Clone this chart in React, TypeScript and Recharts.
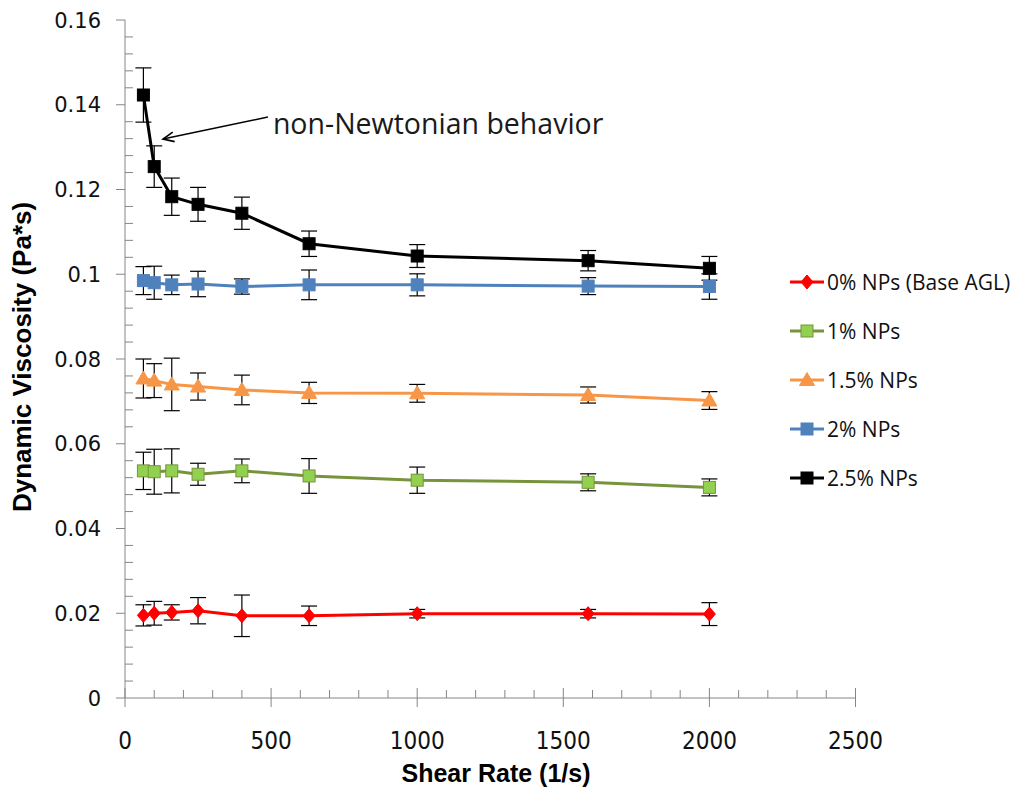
import React from 'react';
import { LineChart, Line, XAxis, YAxis, ErrorBar, ReferenceLine } from 'recharts';

// ---------- data ----------
const shearRates = [63, 100, 160, 250, 400, 630, 1000, 1585, 2000];

const visc0 = [0.0195, 0.02, 0.0202, 0.0206, 0.0194, 0.0194, 0.0199, 0.0199, 0.0198];
const err0 = [0.0025, 0.0028, 0.0018, 0.0031, 0.0049, 0.0023, 0.001, 0.001, 0.0027];
const visc1 = [0.0536, 0.0534, 0.0536, 0.0528, 0.0536, 0.0524, 0.0514, 0.0509, 0.0497];
const err1 = [0.0044, 0.0053, 0.0052, 0.0026, 0.0028, 0.0041, 0.0031, 0.002, 0.002];
const visc15 = [0.0754, 0.0749, 0.074, 0.0735, 0.0727, 0.072, 0.0719, 0.0715, 0.0702];
const err15 = [0.0046, 0.004, 0.0062, 0.0032, 0.0035, 0.0025, 0.0021, 0.0019, 0.0021];
const visc2 = [0.0985, 0.098, 0.0975, 0.0977, 0.0971, 0.0975, 0.0975, 0.0972, 0.0971];
const err2 = [0.0033, 0.0039, 0.0023, 0.003, 0.0018, 0.0035, 0.0026, 0.002, 0.003];
const visc25 = [0.1423, 0.1254, 0.1183, 0.1165, 0.1144, 0.1072, 0.1043, 0.1032, 0.1014];
const err25 = [0.0064, 0.0049, 0.0044, 0.004, 0.0038, 0.003, 0.0027, 0.0024, 0.0028];

const seriesNames = ['0% NPs (Base AGL)', '1% NPs', '1.5% NPs', '2% NPs', '2.5% NPs'];
const seriesValues = [visc0, visc1, visc15, visc2, visc25];
const seriesErrors = [err0, err1, err15, err2, err25];
const lineColors = ['#FF0000', '#77933C', '#F79646', '#4F81BD', '#000000'];
const markerFills = ['#FF0000', '#92D050', '#F79646', '#4F81BD', '#000000'];
const markerStrokes = ['#FF0000', '#77933C', '#F79646', '#4F81BD', '#000000'];
const markerShapes = ['diamond', 'square', 'triangle', 'square', 'square'];

const xTicks = Array.from({ length: 26 }, (_, i) => i * 100);
const yTicks = Array.from({ length: 41 }, (_, i) => Math.round(i * 4) / 1000);

const annotationText = 'non-Newtonian behavior';
const arrowTail = { x: 489, y: 0.1371 };
const arrowHead = { x: 130, y: 0.1319 };

const axisColor = '#868686';

// ---------- helpers ----------
const buildData = (vals: number[], errs: number[]) =>
  shearRates.map((x, i) => ({ x, y: vals[i], err: errs[i] }));

function Marker({ cx, cy, shape, fill, stroke }: any) {
  if (cx == null || cy == null) return null;
  if (shape === 'diamond') {
    return (
      <polygon
        points={`${cx},${cy - 7} ${cx + 6},${cy} ${cx},${cy + 7} ${cx - 6},${cy}`}
        fill={fill}
        stroke={stroke}
        strokeWidth={1}
      />
    );
  }
  if (shape === 'triangle') {
    return (
      <polygon
        points={`${cx},${cy - 7.5} ${cx + 7.5},${cy + 5.5} ${cx - 7.5},${cy + 5.5}`}
        fill={fill}
        stroke={stroke}
        strokeWidth={1}
      />
    );
  }
  return <rect x={cx - 6} y={cy - 6} width={12} height={12} fill={fill} stroke={stroke} strokeWidth={1} />;
}

const fmtY = (v: number) => String(Number(v.toFixed(3)));

const YTick = (props: any) => {
  const { x, y, payload } = props;
  const v = payload.value as number;
  const major = Math.abs(v / 0.02 - Math.round(v / 0.02)) < 1e-6;
  return (
    <g>
      {major ? (
        <line x1={x - 9} x2={x} y1={y} y2={y} stroke={axisColor} strokeWidth={1} />
      ) : (
        <line x1={x} x2={x + 8} y1={y} y2={y} stroke={axisColor} strokeWidth={1} />
      )}
      {major && (
        <text
          x={x - 24}
          y={y}
          dy="0.36em"
          textAnchor="end"
          fontFamily="'DejaVu Sans', sans-serif"
          fontSize={21}
          fill="#111"
        >
          {fmtY(v)}
        </text>
      )}
    </g>
  );
};

const XTick = (props: any) => {
  const { x, y, payload } = props;
  const v = payload.value as number;
  const major = v % 500 === 0;
  return (
    <g>
      {major ? (
        <line x1={x} x2={x} y1={y - 10} y2={y + 9} stroke={axisColor} strokeWidth={1} />
      ) : (
        <line x1={x} x2={x} y1={y - 8} y2={y} stroke={axisColor} strokeWidth={1} />
      )}
      {major && (
        <text
          x={x}
          y={y + 42}
          dy="0.36em"
          textAnchor="middle"
          fontFamily="'DejaVu Sans Condensed', 'DejaVu Sans', sans-serif"
          fontStretch="condensed"
          fontSize={24}
          fill="#111"
        >
          {v}
        </text>
      )}
    </g>
  );
};

const ArrowShape = (props: any) => {
  const { x1, y1, x2, y2 } = props;
  if ([x1, y1, x2, y2].some((v) => v == null || isNaN(v))) return null;
  const ang = Math.atan2(y1 - y2, x1 - x2);
  const L = 12;
  const a1 = ang + 0.42;
  const a2 = ang - 0.42;
  return (
    <g>
      <line x1={x1} y1={y1} x2={x2} y2={y2} stroke="#000" strokeWidth={1.6} />
      <polyline
        points={`${x2 + L * Math.cos(a1)},${y2 + L * Math.sin(a1)} ${x2},${y2} ${x2 + L * Math.cos(a2)},${y2 + L * Math.sin(a2)}`}
        fill="none"
        stroke="#000"
        strokeWidth={1.6}
      />
      <text
        x={x1 + 5}
        y={y1 + 7}
        dy="0.35em"
        fontFamily="'Open Sans', sans-serif"
        fontSize={28.5}
        fill="#1a1a1a"
      >
        {annotationText}
      </text>
    </g>
  );
};

const W = 1017;
const H = 778;
const OVERLAY_H = 786;

export default function App() {
  return (
    <div style={{ position: 'relative', width: W, height: OVERLAY_H }}>
      <LineChart width={W} height={H} margin={{ top: 12, right: 169.5, bottom: 28, left: 57 }}>
        <XAxis
          type="number"
          dataKey="x"
          domain={[0, 2500]}
          ticks={xTicks}
          interval={0}
          allowDuplicatedCategory={false}
          height={60}
          tickSize={0}
          tickMargin={0}
          tickLine={false}
          axisLine={{ stroke: axisColor, strokeWidth: 1 }}
          tick={<XTick />}
        />
        <YAxis
          type="number"
          domain={[0, 0.16]}
          ticks={yTicks}
          interval={0}
          width={60}
          tickSize={0}
          tickMargin={0}
          tickLine={false}
          axisLine={{ stroke: axisColor, strokeWidth: 1 }}
          tick={<YTick />}
        />
        <ReferenceLine
          segment={[arrowTail, arrowHead]}
          shape={ArrowShape}
          ifOverflow="visible"
        />
        {seriesNames.map((name, si) => (
          <Line
            key={name}
            name={name}
            data={buildData(seriesValues[si], seriesErrors[si])}
            dataKey="y"
            type="linear"
            stroke={lineColors[si]}
            strokeWidth={3}
            isAnimationActive={false}
            activeDot={false}
            dot={(p: any) => (
              <Marker
                key={`${name}-${p.index}`}
                cx={p.cx}
                cy={p.cy}
                shape={markerShapes[si]}
                fill={markerFills[si]}
                stroke={markerStrokes[si]}
              />
            )}
          >
            <ErrorBar dataKey="err" direction="y" width={8} stroke="#000" strokeWidth={1.2} />
          </Line>
        ))}
      </LineChart>
      <svg
        width={W}
        height={OVERLAY_H}
        style={{ position: 'absolute', left: 0, top: 0, pointerEvents: 'none' }}
      >
        <text
          transform="translate(14, 349) rotate(-90)"
          textAnchor="middle"
          dy="0.35em"
          fontFamily="'Liberation Sans', Arial, sans-serif"
          fontWeight="bold"
          fontSize={26}
          fill="#000"
        >
          Dynamic Viscosity (Pa*s)
        </text>
        <text
          x={488}
          y={765}
          textAnchor="middle"
          dy="0.35em"
          fontFamily="'Liberation Sans', Arial, sans-serif"
          fontWeight="bold"
          fontSize={25}
          fill="#000"
        >
          Shear Rate (1/s)
        </text>
        {seriesNames.map((name, si) => {
          const cy = 274 + si * 49;
          return (
            <g key={name}>
              <line x1={782} x2={816} y1={cy} y2={cy} stroke={lineColors[si]} strokeWidth={3} />
              <Marker
                cx={799}
                cy={cy}
                shape={markerShapes[si]}
                fill={markerFills[si]}
                stroke={markerStrokes[si]}
              />
              <text
                x={819}
                y={cy}
                dy="0.36em"
                fontFamily="'Open Sans', sans-serif"
                fontSize={21}
                fill="#111"
              >
                {name}
              </text>
            </g>
          );
        })}
      </svg>
    </div>
  );
}
